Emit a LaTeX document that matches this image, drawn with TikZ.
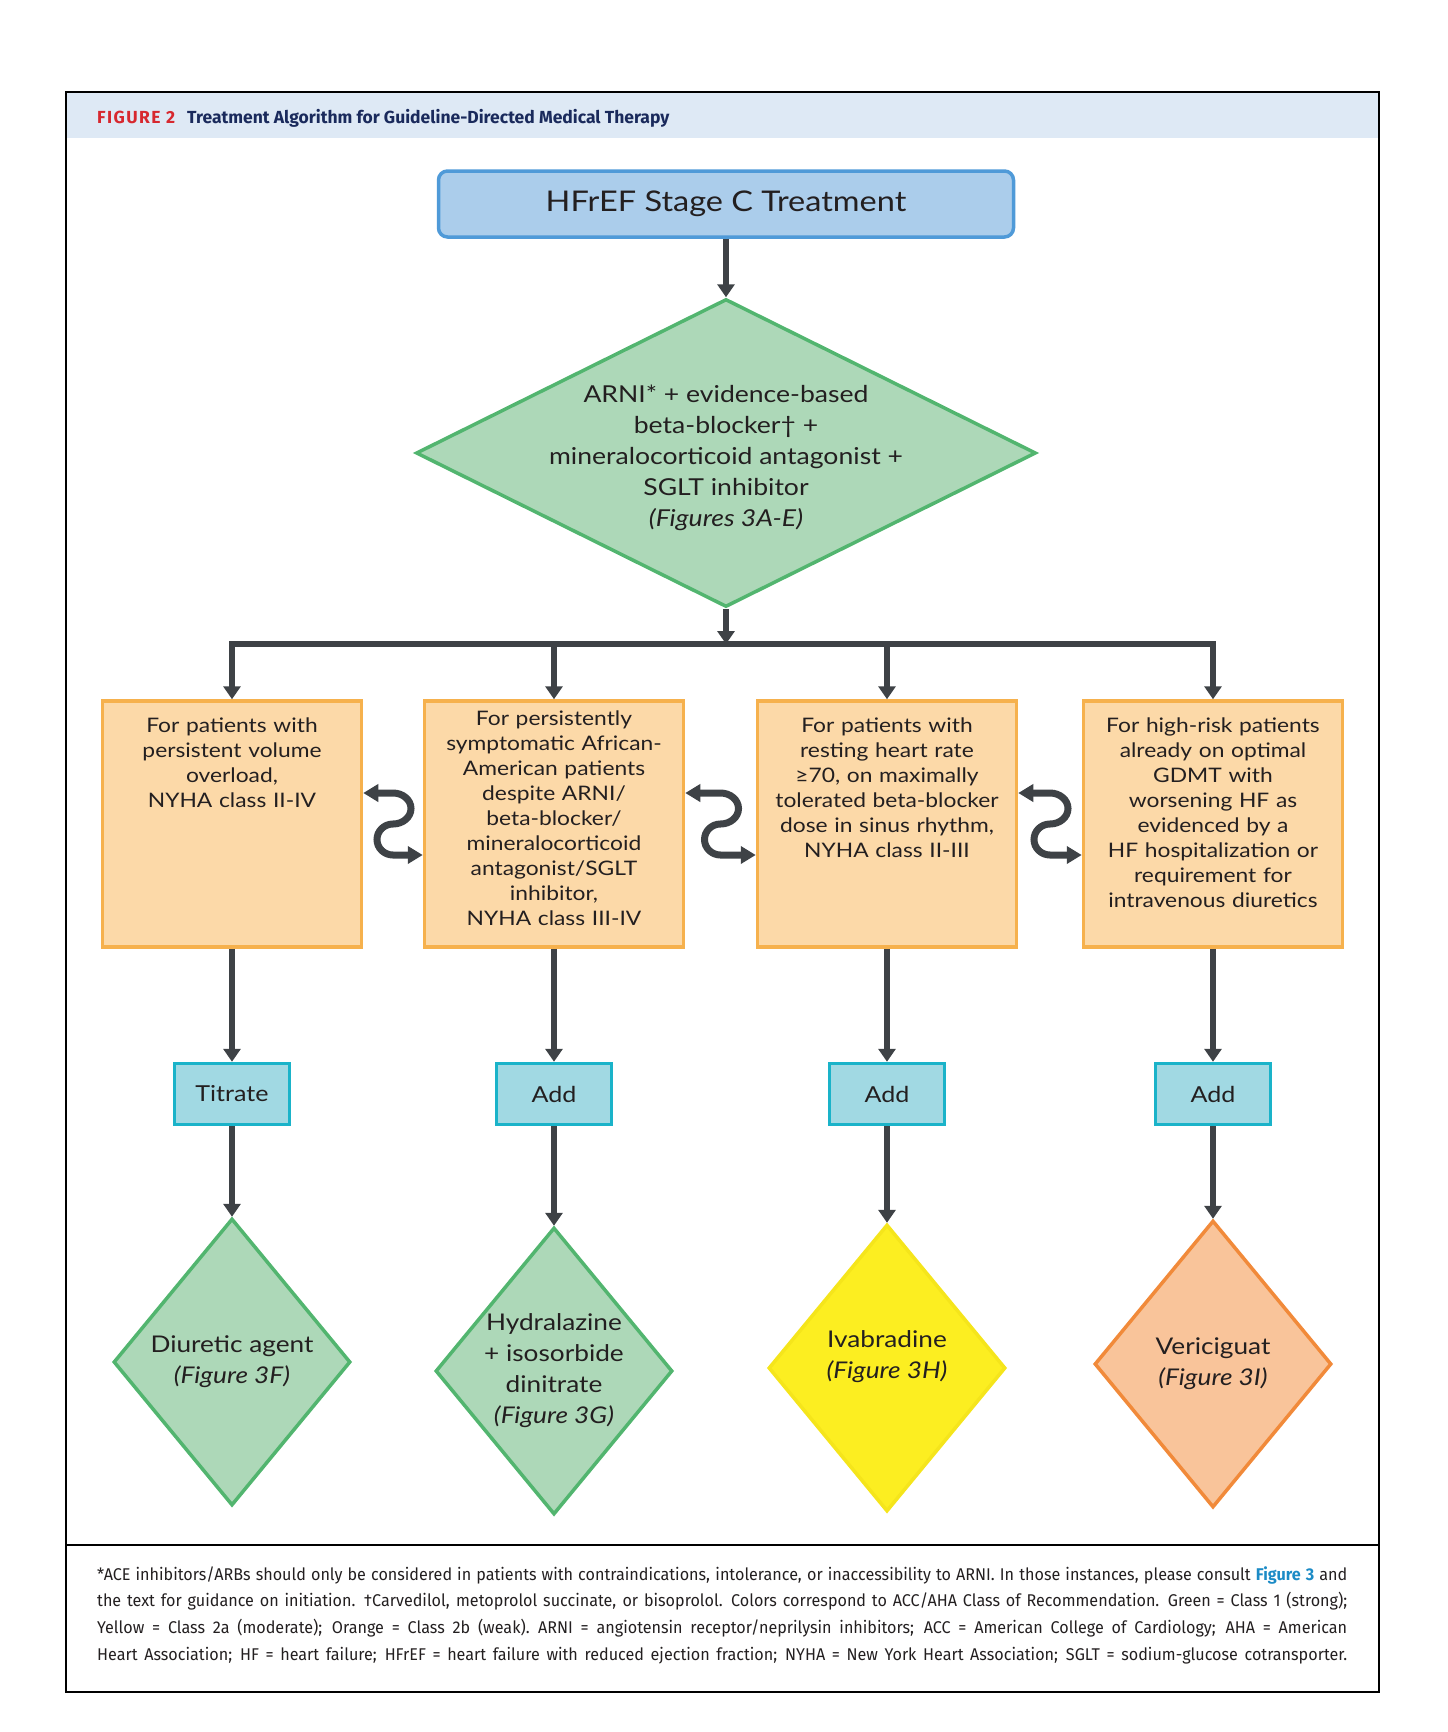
\documentclass[tikz,border=0pt]{standalone}
\usepackage{fontspec}
\setmainfont[FakeStretch=1.14]{Lato}
\newfontfamily\headfont{Fira Sans}
\newfontfamily\notefont[FakeStretch=0.95]{Fira Sans}
\usetikzlibrary{shapes.geometric,arrows.meta,calc,positioning}

\definecolor{hdrfill}{HTML}{DEE9F5}
\definecolor{figred}{HTML}{D7282F}
\definecolor{navy}{HTML}{1A2A5C}
\definecolor{figblue}{HTML}{1C8BC6}
\definecolor{ink}{HTML}{231F20}
\definecolor{arrowgray}{HTML}{3E4246}
\definecolor{bluefill}{HTML}{ABCDEB}
\definecolor{blueline}{HTML}{4F9AD8}
\definecolor{greenfill}{HTML}{ADD8B8}
\definecolor{greenline}{HTML}{52B56F}
\definecolor{condfill}{HTML}{FCD9A8}
\definecolor{condline}{HTML}{F6B14D}
\definecolor{tealfill}{HTML}{A1D9E3}
\definecolor{tealline}{HTML}{1AB3C9}
\definecolor{yellowfill}{HTML}{FCEE21}
\definecolor{yellowline}{HTML}{F5E51B}
\definecolor{peachfill}{HTML}{F9C49A}
\definecolor{peachline}{HTML}{F18A3A}

\tikzset{
  flow/.style={line width=5.5pt, draw=arrowgray, -{Triangle[width=17pt,length=13pt]}},
  switcharrow/.style={line width=7pt, draw=arrowgray,
    {Triangle[width=17pt,length=15pt]}-{Triangle[width=17pt,length=15pt]}},
  startbox/.style={rounded corners=9pt, draw=blueline, fill=bluefill, line width=3.5pt,
    minimum width=575pt, minimum height=66pt, text=ink, font=\fontsize{28.5}{34}\selectfont},
  maindiamond/.style={diamond, draw=greenline, fill=greenfill, line width=3.5pt, shape aspect=2,
    inner sep=-40pt, minimum width=620pt, minimum height=308pt, align=center, text=ink,
    font=\fontsize{23.3}{31}\selectfont},
  condbox/.style={draw=condline, fill=condfill, line width=3.5pt, minimum width=259pt,
    text width=250pt, align=center, inner xsep=0pt, inner ysep=10pt, text height=21pt,
    text depth=205pt, text=ink, font=\fontsize{20}{25}\selectfont},
  actbox/.style={draw=tealline, fill=tealfill, line width=3.5pt, minimum width=115pt,
    minimum height=61pt, text=ink, font=\fontsize{22}{26}\selectfont},
  drugdia/.style={diamond, line width=3.5pt, inner sep=-20pt, minimum width=237pt,
    minimum height=287pt, align=center, text=ink, font=\fontsize{23}{31}\selectfont}
}

\begin{document}
\begin{tikzpicture}[x=1pt,y=1pt]
\useasboundingbox (0,0) rectangle (1448,-1732);
% frame and header band
\fill[hdrfill] (66,-92) rectangle (1379,-138);
\draw[line width=2pt] (66,-92) rectangle (1379,-1692);
\draw[line width=1.5pt] (66,-1545) -- (1379,-1545);
\node[anchor=base west, inner sep=0pt, font=\headfont\bfseries\fontsize{17.5}{20}\selectfont] (title) at (97,-123)
  {\textcolor{figred}{\addfontfeatures{LetterSpace=8}FIGURE 2}\hspace{12pt}\textcolor{navy}{Treatment Algorithm for Guideline-Directed Medical Therapy}};

% top of the algorithm
\node[startbox] (start) at (726,-204) {HFrEF Stage C Treatment};
\node[maindiamond] (main) at (726,-453) {\rule{0pt}{0pt}\\[-3pt]ARNI* + evidence-based\\ beta-blocker\textdagger{} +\\ mineralocorticoid antagonist +\\ SGLT inhibitor\\ \textit{(Figures 3A-E)}};
\coordinate (split) at (726,-644);
\draw[flow] (start) -- (main);
\draw[flow] (main) -- (split);

% the four patient groups
\node[condbox] (c1) at (232,-824) {For patients with\\ persistent volume\\ overload,\\ NYHA class II-IV};
\node[condbox, text height=14pt, text depth=212pt] (c2) at (554,-824) {For persistently\\ symptomatic African-\\ American patients\\ despite ARNI/\\ beta-blocker/\\ mineralocorticoid\\ antagonist/SGLT\\ inhibitor,\\ NYHA class III-IV};
\node[condbox] (c3) at (887,-824) {For patients with\\ resting heart rate\\ ≥70, on maximally\\ tolerated beta-blocker\\ dose in sinus rhythm,\\ NYHA class II-III};
\node[condbox] (c4) at (1213,-824) {For high-risk patients\\ already on optimal\\ GDMT with\\ worsening HF as\\ evidenced by a\\ HF hospitalization or\\ requirement for\\ intravenous diuretics};
\draw[flow] (split) -| (c1.north);
\draw[flow] (split) -| (c4.north);
\draw[flow] (c2.north |- split) -- (c2.north);
\draw[flow] (c3.north |- split) -- (c3.north);
\foreach \i/\j in {1/2,2/3,3/4}{
  \draw[switcharrow] ($(c\i.east)+(0,31)$) -- ($(c\i.east)!0.5!(c\j.west)+(0,31)$)
    arc[start angle=90, end angle=-90, x radius=18pt, y radius=15.5pt]
    arc[start angle=90, end angle=270, x radius=16pt, y radius=15.5pt] -- ($(c\j.west)+(0,-31)$);
}

% actions and drugs
\foreach \i/\xx/\lbl in {1/232/Titrate, 2/554/Add, 3/887/Add, 4/1213/Add}{
  \node[actbox] (t\i) at (\xx,-1094) {\lbl};
  \draw[flow] (c\i) -- (t\i);
}
\node[drugdia, draw=greenline, fill=greenfill] (d1) at (232,-1362) {Diuretic agent\\ \textit{(Figure 3F)}};
\node[drugdia, draw=greenline, fill=greenfill] (d2) at (554,-1371) {Hydralazine\\ + isosorbide\\ dinitrate\\ \textit{(Figure 3G)}};
\node[drugdia, draw=yellowline, fill=yellowfill] (d3) at (887,-1368) {Ivabradine\\ \textit{(Figure 3H)}\\[-4pt]\rule{0pt}{0pt}};
\node[drugdia, draw=peachline, fill=peachfill] (d4) at (1213,-1364) {Vericiguat\\ \textit{(Figure 3I)}};
\foreach \i in {1,...,4}{
  \draw[flow] (t\i) -- (d\i);
}

% footnote
\node[anchor=north west, inner sep=0pt, text width=1250pt, align=left, text=ink,
  font=\notefont\fontsize{17}{26.7}\selectfont] (note) at (97,-1566)
  {\spaceskip=4pt plus 12pt minus 1.5pt\relax
   \makebox[1250pt][s]{*ACE inhibitors/ARBs should only be considered in patients with contraindications, intolerance, or inaccessibility to ARNI. In those instances, please consult \textcolor{figblue}{\bfseries Figure 3} and}\\
   \makebox[1250pt][s]{the text for guidance on initiation. \textdagger Carvedilol, metoprolol succinate, or bisoprolol. Colors correspond to ACC/AHA Class of Recommendation. Green = Class 1 (strong);}\\
   \makebox[1250pt][s]{Yellow = Class 2a (moderate); Orange = Class 2b (weak). ARNI = angiotensin receptor/neprilysin inhibitors; ACC = American College of Cardiology; AHA = American}\\
   \makebox[1250pt][s]{Heart Association; HF = heart failure; HFrEF = heart failure with reduced ejection fraction; NYHA = New York Heart Association; SGLT = sodium-glucose cotransporter.}};
\end{tikzpicture}
\end{document}
